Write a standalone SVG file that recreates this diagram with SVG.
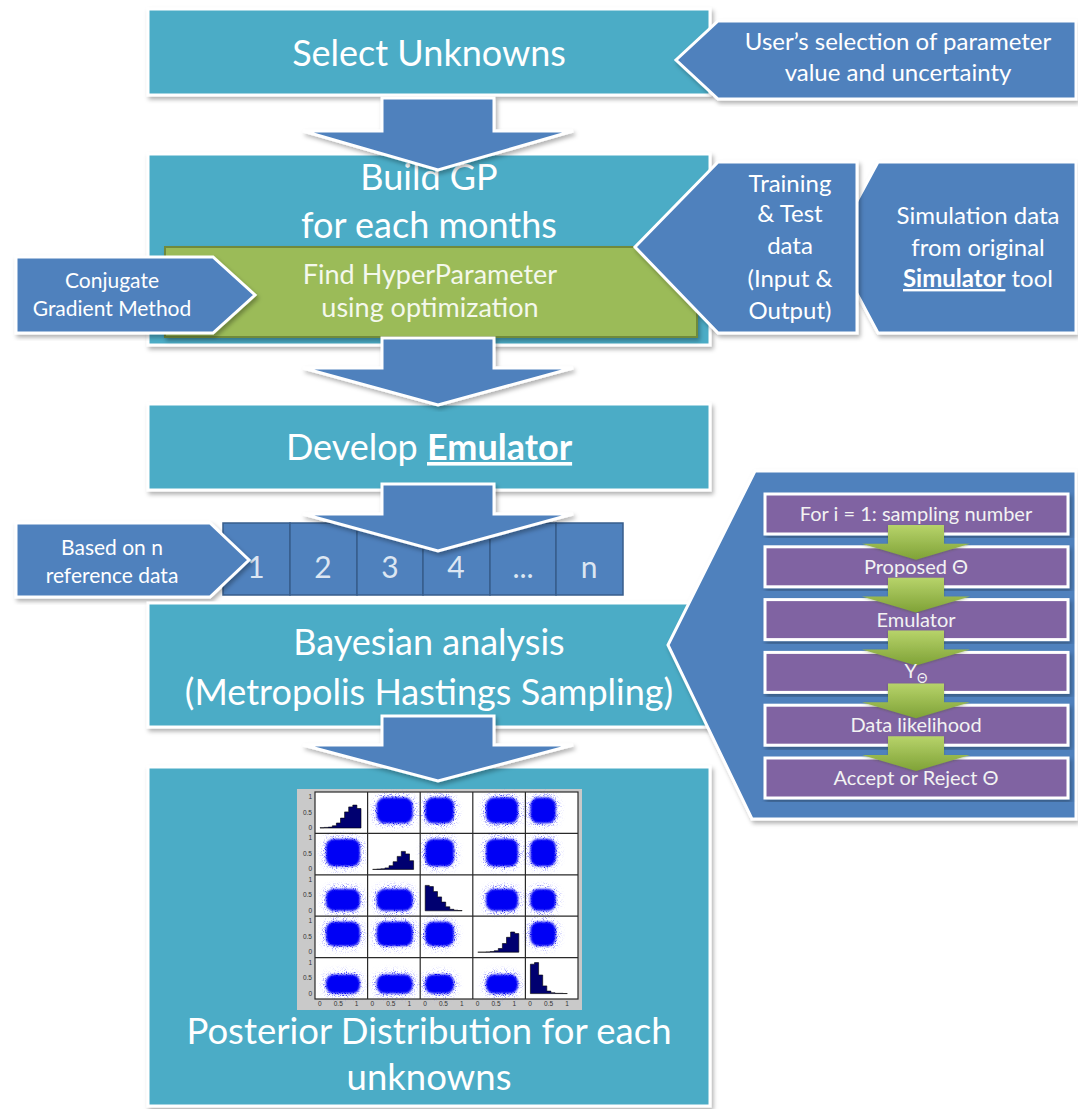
<svg xmlns="http://www.w3.org/2000/svg" width="1078" height="1109" viewBox="0 0 1078 1109">
<defs>
<style>
text{font-family:Lato,"Liberation Sans",sans-serif;fill:#fff;text-anchor:middle}
.stage{fill:#4BACC6;stroke:#fff;stroke-width:3;filter:url(#shadow)}
.tag{fill:#4F81BD;stroke:#fff;stroke-width:3;filter:url(#shadow)}
.flow{fill:#4F81BD;stroke:#fff;stroke-width:3;filter:url(#shadow)}
.opt{fill:#9BBB59;stroke:#6F8A3A;stroke-width:2;filter:url(#shadow)}
.main{font-size:36px}
.post{font-size:36.5px}
.opttxt{font-size:27px;fill:#F4F8EC}
.note{font-size:24px}
.small{font-size:21px}
.step{fill:#8064A2;stroke:#fff;stroke-width:3;filter:url(#shadow)}
.steptxt{font-size:20px;fill:#F2F2F2}
.cell{fill:#4F81BD;stroke:#375D8C;stroke-width:1.5}
.num{font-size:30px;fill:#DCE6F2}
.emph{font-weight:bold;text-decoration:underline}
.grid{fill:none;stroke:#2a2a2a;stroke-width:1.2}
.cloud{fill:#0000F5;filter:url(#scatter)}
.hist{fill:#000070;stroke:#000;stroke-width:0.6}
.tick{font-family:"Liberation Sans",sans-serif;font-size:6.5px;fill:#333}
.ytick{text-anchor:end}
.xtick{text-anchor:start;word-spacing:10.3px}
.leaf{fill:url(#leafGrad);filter:url(#soft)}
</style>
<filter id="shadow" x="-5%" y="-5%" width="112%" height="115%">
<feDropShadow dx="2" dy="3" stdDeviation="2" flood-color="#000" flood-opacity="0.3"/>
</filter>
<filter id="soft" x="-20%" y="-20%" width="140%" height="140%">
<feDropShadow dx="0" dy="1" stdDeviation="1" flood-color="#3d4f1a" flood-opacity="0.35"/>
</filter>
<!-- dense core plus a speckled fringe of scattered sample points -->
<filter id="scatter" x="-50%" y="-50%" width="200%" height="200%">
<feGaussianBlur in="SourceAlpha" stdDeviation="4.5" result="halo"/>
<feTurbulence type="fractalNoise" baseFrequency="1.1" numOctaves="1" seed="7" result="noise"/>
<feColorMatrix in="noise" type="matrix" values="0 0 0 0 0  0 0 0 0 0  0 0 0 0 0  0 0 0 4 -2.1" result="dots"/>
<feComposite in="dots" in2="halo" operator="arithmetic" k1="2.4" k2="0" k3="0" k4="0" result="spk"/>
<feFlood flood-color="#0000F5" result="blue"/>
<feComposite in="blue" in2="spk" operator="in" result="speck"/>
<feGaussianBlur in="SourceGraphic" stdDeviation="1.3" result="core"/>
<feMerge><feMergeNode in="speck"/><feMergeNode in="core"/></feMerge>
</filter>
<linearGradient id="leafGrad" x1="0" y1="0" x2="0" y2="1">
<stop offset="0" stop-color="#B7D36A"/>
<stop offset="1" stop-color="#7FA237"/>
</linearGradient>
</defs>

<!-- workflow stages -->
<g id="select-unknowns">
<rect class="stage" x="148" y="9" width="562" height="86"/>
<text class="main" x="429" y="66">Select Unknowns</text>
</g>

<g id="user-selection">
<polygon class="tag" points="718,21 1076,21 1076,99 718,99 676,60"/>
<text class="note" x="898" y="50">User’s selection of parameter</text>
<text class="note" x="898" y="81">value and uncertainty</text>
</g>

<g id="build-gp">
<rect class="stage" x="148" y="154" width="562" height="191"/>
<text class="main" x="429" y="190">Build GP</text>
<text class="main" x="429" y="238">for each months</text>
</g>

<g id="find-hyperparameter">
<rect class="opt" x="165" y="247" width="532" height="90"/>
<text class="opttxt" x="430" y="284">Find HyperParameter</text>
<text class="opttxt" x="430" y="317">using optimization</text>
</g>

<g id="conjugate-gradient">
<polygon class="tag" points="16,257 213,257 255,295 213,333 16,333"/>
<text class="small" x="112" y="288">Conjugate</text>
<text class="small" x="112" y="316">Gradient Method</text>
</g>

<g id="simulation-data">
<polygon class="tag" points="878,162 1076,162 1076,333 878,333 832,247"/>
<text class="note" x="978" y="224">Simulation data</text>
<text class="note" x="978" y="256">from original</text>
<text class="note" x="978" y="287"><tspan class="emph">Simulator</tspan> tool</text>
</g>

<g id="training-data">
<polygon class="tag" points="718,162 857,162 857,333 718,333 635,247"/>
<text class="note" x="790" y="192">Training</text>
<text class="note" x="790" y="222">&amp; Test</text>
<text class="note" x="790" y="254">data</text>
<text class="note" x="790" y="287">(Input &amp;</text>
<text class="note" x="790" y="319">Output)</text>
</g>

<g id="develop-emulator">
<rect class="stage" x="148" y="404" width="562" height="86"/>
<text class="main" x="429" y="460">Develop <tspan class="emph">Emulator</tspan></text>
</g>

<g id="reference-slots">
<rect class="cell" x="223" y="523" width="67" height="72"/>
<rect class="cell" x="290" y="523" width="67" height="72"/>
<rect class="cell" x="357" y="523" width="66" height="72"/>
<rect class="cell" x="423" y="523" width="67" height="72"/>
<rect class="cell" x="490" y="523" width="66" height="72"/>
<rect class="cell" x="556" y="523" width="67" height="72"/>
<text class="num" x="256" y="578">1</text>
<text class="num" x="323" y="578">2</text>
<text class="num" x="390" y="578">3</text>
<text class="num" x="456" y="578">4</text>
<text class="num" x="523" y="578">...</text>
<text class="num" x="589" y="578">n</text>
</g>

<g id="reference-data">
<polygon class="tag" points="16,523 210,523 249,560 210,597 16,597"/>
<text class="small" x="112" y="555">Based on n</text>
<text class="small" x="112" y="583">reference data</text>
</g>

<g id="bayesian-analysis">
<rect class="stage" x="148" y="603" width="562" height="124"/>
<text class="main" x="429" y="655">Bayesian analysis</text>
<text class="main" x="429" y="705">(Metropolis Hastings Sampling)</text>
</g>

<!-- Metropolis-Hastings loop -->
<g id="mh-loop">
<polygon class="tag" points="755,471 1076,471 1076,819 752,819 668,645"/>
<g id="step-loop"><rect class="step" x="765" y="494" width="303" height="40"/></g>
<g id="step-propose"><rect class="step" x="765" y="546.8" width="303" height="40"/></g>
<g id="step-emulator"><rect class="step" x="765" y="599.6" width="303" height="40"/></g>
<g id="step-output"><rect class="step" x="765" y="652.4" width="303" height="40"/></g>
<g id="step-likelihood"><rect class="step" x="765" y="705.2" width="303" height="40"/></g>
<g id="step-accept"><rect class="step" x="765" y="758" width="303" height="40"/></g>
</g>

<g id="mh-links">
<polygon class="leaf" points="888,525 944,525 944,543.8 970,543.8 916,559.8 862,543.8 888,543.8"/>
<polygon class="leaf" points="888,577.8 944,577.8 944,596.6 970,596.6 916,612.6 862,596.6 888,596.6"/>
<polygon class="leaf" points="888,630.6 944,630.6 944,649.4 970,649.4 916,665.4 862,649.4 888,649.4"/>
<polygon class="leaf" points="888,683.4 944,683.4 944,702.2 970,702.2 916,718.2 862,702.2 888,702.2"/>
<polygon class="leaf" points="888,736.2 944,736.2 944,755 970,755 916,771 862,755 888,755"/>
</g>

<g id="mh-labels">
<text class="steptxt" x="916" y="521">For i = 1: sampling number</text>
<text class="steptxt" x="916" y="574">Proposed Θ</text>
<text class="steptxt" x="916" y="627">Emulator</text>
<text class="steptxt" x="916" y="678">Y<tspan font-size="13" dy="5">Θ</tspan></text>
<text class="steptxt" x="916" y="732">Data likelihood</text>
<text class="steptxt" x="916" y="785">Accept or Reject Θ</text>
</g>

<g id="posterior">
<rect class="stage" x="148" y="767" width="562" height="339"/>
<!-- scatter-plot matrix of the posterior samples -->
<g id="scatter-matrix">
<rect x="297" y="789" width="285" height="221" fill="#C9C9C9"/>
<rect x="315" y="792" width="263" height="207" fill="#fff"/>
<!-- row 0 -->
<rect class="cloud" x="376.7" y="797.6" width="36" height="25.7" rx="8"/>
<rect class="cloud" x="425.2" y="797.6" width="28.7" height="25.7" rx="8"/>
<rect class="cloud" x="486" y="797.6" width="32" height="25.7" rx="8"/>
<rect class="cloud" x="530.4" y="797.6" width="25.4" height="25.7" rx="8"/>
<!-- row 1 -->
<rect class="cloud" x="326" y="839" width="34" height="27.3" rx="8"/>
<rect class="cloud" x="425.2" y="839" width="28.7" height="27.3" rx="8"/>
<rect class="cloud" x="486" y="839" width="32" height="27.3" rx="8"/>
<rect class="cloud" x="530.4" y="839" width="25.4" height="27.3" rx="8"/>
<!-- row 2 -->
<rect class="cloud" x="326" y="889.1" width="34" height="21.7" rx="8"/>
<rect class="cloud" x="376.7" y="889.1" width="36" height="21.7" rx="8"/>
<rect class="cloud" x="486" y="889.1" width="32" height="21.7" rx="8"/>
<rect class="cloud" x="530.4" y="889.1" width="25.4" height="21.7" rx="8"/>
<!-- row 3 -->
<rect class="cloud" x="326" y="921.8" width="34" height="24.2" rx="8"/>
<rect class="cloud" x="376.7" y="921.8" width="36" height="24.2" rx="8"/>
<rect class="cloud" x="425.2" y="921.8" width="28.7" height="24.2" rx="8"/>
<rect class="cloud" x="530.4" y="921.8" width="25.4" height="24.2" rx="8"/>
<!-- row 4 -->
<rect class="cloud" x="326" y="974.4" width="34" height="19.2" rx="8"/>
<rect class="cloud" x="376.7" y="974.4" width="36" height="19.2" rx="8"/>
<rect class="cloud" x="425.2" y="974.4" width="28.7" height="19.2" rx="8"/>
<rect class="cloud" x="486" y="974.4" width="32" height="19.2" rx="8"/>
<!-- marginal histograms on the diagonal -->
<path class="hist" d="M320 828 V827.7 H324.1 V827.4 H328.2 V827.1 H332.3 V825.8 H336.4 V823 H340.5 V818.1 H344.6 V811.9 H348.7 V806.9 H352.8 V805.1 H356.9 V808.5 H361 V828 Z"/>
<path class="hist" d="M372.6 869.4 H376.7 V869.1 H380.8 V868.8 H384.9 V867.9 H389 V865.7 H393.1 V861.7 H397.2 V856.4 H401.3 V851.4 H405.4 V853.9 H409.5 V860.7 H413.6 V869.4 Z"/>
<path class="hist" d="M425.2 910.8 V885.4 H429.3 V886.6 H433.4 V891.6 H437.5 V896.9 H441.6 V902.1 H445.7 V906.8 H449.8 V909.3 H453.9 V910.2 H458 V910.5 H462.1 V910.8 Z"/>
<path class="hist" d="M477.8 952.2 H486 V951.9 H490.1 V951.6 H494.2 V950.7 H498.3 V948.5 H502.4 V943.5 H506.5 V937.3 H510.6 V932 H514.7 V933.6 H518.8 V952.2 Z"/>
<path class="hist" d="M530.4 993.6 V964.2 H534.5 V962.6 H538.6 V975 H542.7 V985.9 H546.8 V991.1 H550.9 V992.7 H555 V993.3 H563.2 V993.5 H567.3 V993.6 Z"/>
<!-- panel frames -->
<rect class="grid" x="315" y="792" width="263" height="207"/>
<path class="grid" d="M367.6 792 V999 M420.2 792 V999 M472.8 792 V999 M525.4 792 V999 M315 833.4 H578 M315 874.8 H578 M315 916.2 H578 M315 957.6 H578"/>
<!-- axis ticks -->
<text class="tick ytick"><tspan x="312" y="799">1</tspan><tspan x="312" y="814.5">0.5</tspan><tspan x="312" y="830">0</tspan><tspan x="312" y="840.4">1</tspan><tspan x="312" y="855.9">0.5</tspan><tspan x="312" y="871.4">0</tspan><tspan x="312" y="881.8">1</tspan><tspan x="312" y="897.3">0.5</tspan><tspan x="312" y="912.8">0</tspan><tspan x="312" y="923.2">1</tspan><tspan x="312" y="938.7">0.5</tspan><tspan x="312" y="954.2">0</tspan><tspan x="312" y="964.6">1</tspan><tspan x="312" y="980.1">0.5</tspan><tspan x="312" y="995.6">0</tspan></text>
<text class="tick xtick" x="318" y="1006">0 0.5 1 0 0.5 1 0 0.5 1 0 0.5 1 0 0.5 1</text>
</g>
<text class="post" x="429" y="1044">Posterior Distribution for each</text>
<text class="post" x="429" y="1090">unknowns</text>
</g>

<!-- block arrows between stages -->
<g id="connectors">
<polygon class="flow" points="382,98 494,98 494,131 573,131 438,170 303,131 382,131"/>
<polygon class="flow" points="382,338 494,338 494,368 573,368 438,405 303,368 382,368"/>
<polygon class="flow" points="382,484 494,484 494,514 573,514 438,551 303,514 382,514"/>
<polygon class="flow" points="382,716 494,716 494,745 573,745 438,781 303,745 382,745"/>
</g>
</svg>
